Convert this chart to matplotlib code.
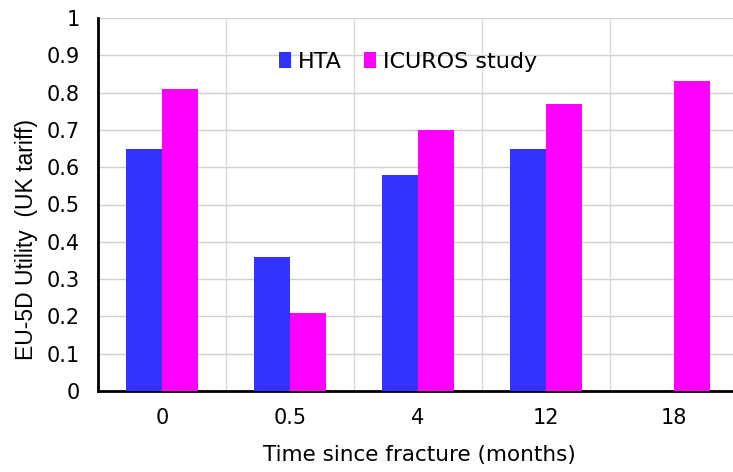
import matplotlib
matplotlib.use("Agg")
import matplotlib.pyplot as plt
import numpy as np

categories = ["0", "0.5", "4", "12", "18"]
hta = [0.65, 0.36, 0.58, 0.65, np.nan]
icuros = [0.81, 0.21, 0.70, 0.77, 0.83]

plt.rcParams['font.family'] = ['DejaVu Sans']

W, H = 733, 472
fig = plt.figure(figsize=(W/100, H/100), dpi=100)
x0, x1 = 98, 738
y0, y1 = 391, 18
ax = fig.add_axes([x0/W, 1 - y0/H, (x1-x0)/W, (y0-y1)/H])

x = np.arange(len(categories))
w = 0.285
ax.bar(x - w/2, hta, w, color='#3333FF', label='HTA', zorder=3)
ax.bar(x + w/2, icuros, w, color='#FF00FF', label='ICUROS study', zorder=3)

ax.set_xlim(-0.5, len(categories) - 0.5)
ax.set_ylim(0, 1)
ax.set_yticks(np.arange(0, 1.01, 0.1))
ax.set_yticklabels(["0", "0.1", "0.2", "0.3", "0.4", "0.5", "0.6", "0.7", "0.8", "0.9", "1"])
ax.set_xticks(x)
ax.set_xticklabels(categories)
ax.set_xticks(np.arange(-0.5, len(categories), 1), minor=True)
ax.grid(True, axis='y', which='major', color='#D0D0D0', linewidth=1, zorder=0)
ax.grid(True, axis='x', which='minor', color='#D9D9D9', linewidth=1, zorder=0)
ax.grid(False, axis='x', which='major')

ax.tick_params(axis='both', which='both', length=0, labelsize=15, colors='#000000')
ax.tick_params(axis='y', pad=13)
ax.tick_params(axis='x', pad=12)

for s in ['top', 'right']:
    ax.spines[s].set_visible(False)
ax.spines['left'].set_linewidth(2)
ax.spines['bottom'].set_linewidth(2)
ax.spines['left'].set_color('black')
ax.spines['bottom'].set_color('black')

ax.set_xlabel("Time since fracture (months)", fontsize=15.5)
ax.xaxis.set_label_coords(0.502, (y0 - 445) / (y0 - y1))
ax.set_ylabel("EU-5D Utility  (UK tariff)", fontsize=16.5, family=['Liberation Sans', 'DejaVu Sans'])
ax.yaxis.set_label_coords((38 - x0) / (x1 - x0), (y0 - 240) / (y0 - y1))

ax.legend(loc='center left', bbox_to_anchor=((270 - x0)/(x1 - x0), (y0 - 62)/(y0 - y1)),
          ncol=2, frameon=False, fontsize=16, handlelength=0.55, handleheight=0.75,
          handletextpad=0.3, columnspacing=1.0, borderaxespad=0)

fig.savefig("out.png", dpi=100)
